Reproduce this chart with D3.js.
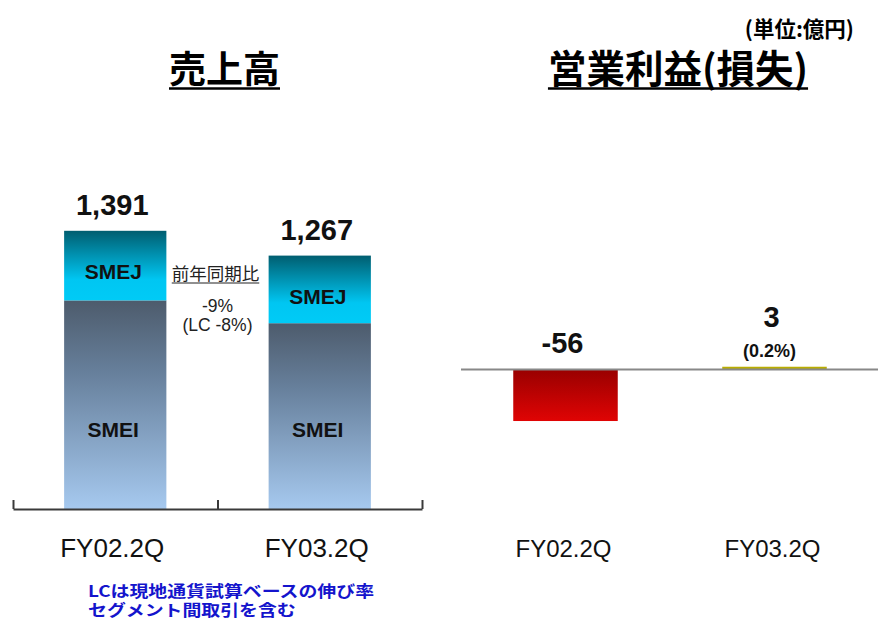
<!DOCTYPE html>
<html>
<head>
<meta charset="utf-8">
<script src="https://cdn.jsdelivr.net/npm/d3@7"></script>
<style>
  body { margin: 0; background: #fff; }
  svg { display: block; }
</style>
</head>
<body>
<svg></svg>
<script>
const w = 878
const h = 626

// data
const categories = ['FY02.2Q', 'FY03.2Q']
const smei = [1043, 929]
const smej = [348, 338]
const salesTotal = [1391, 1267]
const salesLabels = ['1,391', '1,267']
const opIncome = [-56, 3]
const opLabels = ['-56', '3']
const opMargin = [null, '(0.2%)']
const yoyLines = ['前年同期比', '-9%', '(LC -8%)']
const notes = ['LCは現地通貨試算ベースの伸び率', 'セグメント間取引を含む']
const titles = ['売上高', '営業利益(損失)']
const unitLabel = '(単位:億円)'

const latin = "'Liberation Sans', Arial, sans-serif"
const cjk = "'Noto Sans CJK JP', 'Liberation Sans', sans-serif"

const svg = d3.select('svg')
  .attr('width', w)
  .attr('height', h)

// gradients
const defs = svg.append('defs')
const grad = (id, stops) => {
  const g = defs.append('linearGradient')
    .attr('id', id)
    .attr('x1', 0).attr('y1', 0).attr('x2', 0).attr('y2', 1)
  stops.forEach(s => g.append('stop').attr('offset', s[0]).attr('stop-color', s[1]))
}
grad('gSmej', [[0, '#005e70'], [0.7, '#00c6f2'], [1, '#00cbf6']])
grad('gSmei', [[0, '#4d5b6c'], [0.35, '#67809c'], [1, '#a6c9ef']])
grad('gRed', [[0, '#990000'], [1, '#e00404']])

// ---------- left: sales ----------
const xL = d3.scaleBand()
  .domain(categories)
  .range([13, 422])
  .paddingInner(0.5)
  .paddingOuter(0.25)

const yL = d3.scaleLinear()
  .domain([0, 1500])
  .range([509, 209])

const left = svg.append('g')

// stacked bars
const stack = categories.map((c, i) => ({ c, smei: smei[i], smej: smej[i], total: salesTotal[i], label: salesLabels[i] }))

left.selectAll('.smei').data(stack)
  .enter().append('rect')
  .attr('x', d => xL(d.c))
  .attr('width', xL.bandwidth())
  .attr('y', d => yL(d.smei))
  .attr('height', d => yL(0) - yL(d.smei))
  .attr('fill', 'url(#gSmei)')

left.selectAll('.smej').data(stack)
  .enter().append('rect')
  .attr('x', d => xL(d.c))
  .attr('width', xL.bandwidth())
  .attr('y', d => yL(d.total))
  .attr('height', d => yL(d.smei) - yL(d.total))
  .attr('fill', 'url(#gSmej)')

// axis with boundary ticks
const xEdge = d3.scaleLinear().domain([0, categories.length]).range(xL.range())
const axisG = left.append('g')
  .attr('transform', `translate(0, ${yL(0)})`)
  .call(d3.axisBottom(xEdge)
    .tickValues(d3.range(categories.length + 1))
    .tickSize(-9)
    .tickSizeOuter(0)
    .tickFormat(''))
axisG.select('.domain').attr('stroke', '#3a3a3a').attr('stroke-width', 2)
axisG.selectAll('.tick line').attr('stroke', '#3a3a3a').attr('stroke-width', 2)

// segment labels
left.selectAll('.lj').data(stack)
  .enter().append('text')
  .attr('x', d => xL(d.c) + xL.bandwidth() / 2 - 2)
  .attr('y', d => yL(d.total) + 48)
  .attr('text-anchor', 'middle')
  .attr('font-family', latin)
  .attr('font-weight', 'bold')
  .attr('font-size', 21)
  .attr('fill', '#111')
  .text('SMEJ')

left.selectAll('.li').data(stack)
  .enter().append('text')
  .attr('x', d => xL(d.c) + xL.bandwidth() / 2 - 2)
  .attr('y', yL(400) + 8)
  .attr('text-anchor', 'middle')
  .attr('font-family', latin)
  .attr('font-weight', 'bold')
  .attr('font-size', 21)
  .attr('fill', '#111')
  .text('SMEI')

// totals
left.selectAll('.tot').data(stack)
  .enter().append('text')
  .attr('x', d => xL(d.c) + xL.bandwidth() / 2 - 3)
  .attr('y', d => yL(d.total) - 16)
  .attr('text-anchor', 'middle')
  .attr('font-family', latin)
  .attr('font-weight', 'bold')
  .attr('font-size', 29)
  .attr('fill', '#111')
  .text(d => d.label)

// categories
left.selectAll('.cat').data(categories)
  .enter().append('text')
  .attr('x', d => xL(d) + xL.bandwidth() / 2 - 3)
  .attr('y', 557)
  .attr('text-anchor', 'middle')
  .attr('font-family', latin)
  .attr('font-size', 26)
  .attr('fill', '#111')
  .text(d => d)

// yoy annotation between bars
const midX = xEdge(1)
const yoy = left.append('g')
const yoyHead = yoy.append('text')
  .attr('x', midX - 2)
  .attr('y', 280)
  .attr('text-anchor', 'middle')
  .attr('font-family', cjk)
  .attr('font-size', 17.5)
  .attr('fill', '#222')
  .text(yoyLines[0])
const hb = yoyHead.node().getBBox()
yoy.append('line')
  .attr('x1', hb.x).attr('x2', hb.x + hb.width)
  .attr('y1', 283).attr('y2', 283)
  .attr('stroke', '#222').attr('stroke-width', 1.2)
yoy.selectAll('.yl').data(yoyLines.slice(1))
  .enter().append('text')
  .attr('x', midX)
  .attr('y', (d, i) => 312 + i * 18.5)
  .attr('text-anchor', 'middle')
  .attr('font-family', latin)
  .attr('font-size', 17.5)
  .attr('fill', '#222')
  .text(d => d)

// ---------- right: operating income ----------
const xR = d3.scaleBand()
  .domain(categories)
  .range([461, 879])
  .paddingInner(0.5)
  .paddingOuter(0.25)

const yR = d3.scaleLinear()
  .domain([-100, 100])
  .range([461.5, 277.5])

const right = svg.append('g')
const ops = categories.map((c, i) => ({ c, v: opIncome[i], label: opLabels[i], margin: opMargin[i] }))

right.selectAll('.op').data(ops)
  .enter().append('rect')
  .attr('x', d => xR(d.c))
  .attr('width', xR.bandwidth())
  .attr('y', d => yR(Math.max(0, d.v)))
  .attr('height', d => Math.abs(yR(d.v) - yR(0)))
  .attr('fill', d => d.v < 0 ? 'url(#gRed)' : '#b9ad00')

right.append('line')
  .attr('x1', xR.range()[0]).attr('x2', xR.range()[1])
  .attr('y1', yR(0)).attr('y2', yR(0))
  .attr('stroke', '#888').attr('stroke-width', 2)

right.selectAll('.opl').data(ops)
  .enter().append('text')
  .attr('x', d => xR(d.c) + xR.bandwidth() / 2 - 3)
  .attr('y', d => d.margin ? yR(d.v) - 40 : yR(0) - 17)
  .attr('text-anchor', 'middle')
  .attr('font-family', latin)
  .attr('font-weight', 'bold')
  .attr('font-size', 29)
  .attr('fill', '#111')
  .text(d => d.label)

right.selectAll('.opm').data(ops.filter(d => d.margin))
  .enter().append('text')
  .attr('x', d => xR(d.c) + xR.bandwidth() / 2 - 5)
  .attr('y', d => yR(d.v) - 10)
  .attr('text-anchor', 'middle')
  .attr('font-family', latin)
  .attr('font-weight', 'bold')
  .attr('font-size', 18)
  .attr('fill', '#111')
  .text(d => d.margin)

right.selectAll('.cat').data(categories)
  .enter().append('text')
  .attr('x', d => xR(d) + xR.bandwidth() / 2 - 2)
  .attr('y', 557)
  .attr('text-anchor', 'middle')
  .attr('font-family', latin)
  .attr('font-size', 24)
  .attr('fill', '#111')
  .text(d => d)

// ---------- titles ----------
const titleX = [xEdge(1) + 7, (xR.range()[0] + xR.range()[1]) / 2 + 8]
const titleSize = [37, 38.5]
titles.forEach((t, i) => {
  const tt = svg.append('text')
    .attr('x', titleX[i])
    .attr('y', 83)
    .attr('text-anchor', 'middle')
    .attr('font-family', cjk)
    .attr('font-weight', 'bold')
    .attr('font-size', titleSize[i])
    .attr('fill', '#000')
    .text(t)
  const b = tt.node().getBBox()
  svg.append('line')
    .attr('x1', b.x).attr('x2', b.x + b.width)
    .attr('y1', 88.5).attr('y2', 88.5)
    .attr('stroke', '#000').attr('stroke-width', 2.5)
})

svg.append('text')
  .attr('x', 854)
  .attr('y', 37)
  .attr('text-anchor', 'end')
  .attr('font-family', cjk)
  .attr('font-weight', 'bold')
  .attr('font-size', 21.5)
  .attr('fill', '#000')
  .text(unitLabel)

// footnote (wide glyphs, as in the original)
svg.selectAll('.note').data(notes)
  .enter().append('text')
  .attr('transform', (d, i) => `translate(88, ${597 + i * 18.5}) scale(1.22, 1)`)
  .attr('font-family', cjk)
  .attr('font-weight', 'bold')
  .attr('font-size', 15.5)
  .attr('fill', '#1414cc')
  .text(d => d)
</script>
</body>
</html>
